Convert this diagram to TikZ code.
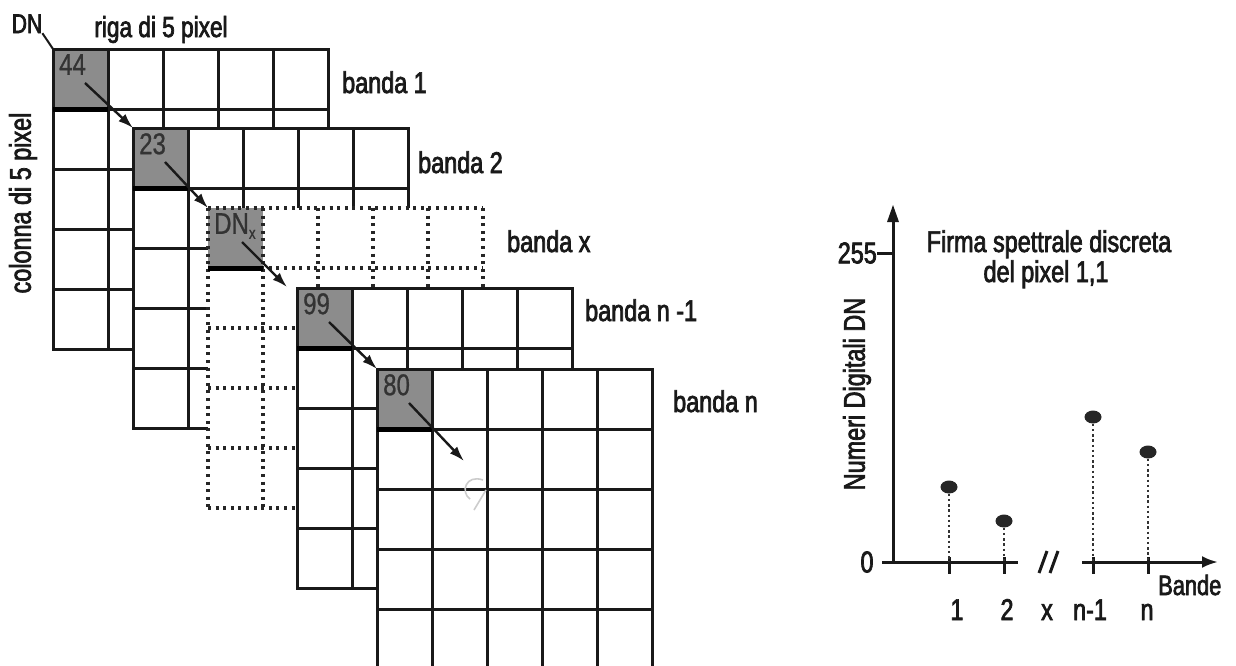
\documentclass[tikz,border=0pt]{standalone}
\usepackage{fontspec}
\setmainfont{Liberation Sans}
\newfontfamily\condfont[FakeStretch=0.78,FakeBold=2.4]{Liberation Sans}
\newfontfamily\numfont[FakeStretch=0.8,FakeBold=0.8]{Liberation Sans}
\usetikzlibrary{calc,arrows.meta,shapes.geometric}

% one 5x5 band: corner coordinate, line style, name of the value node, value
\newcommand{\bandgrid}[4]{%
  \fill[white] (#1) rectangle ($(#1)+(275,300)$);
  \fill[cellgray] (#1) rectangle ($(#1)+(55,60)$);
  \foreach \i in {0,...,5} {
    \draw[#2] ($(#1)+(55*\i,0)$) -- ($(#1)+(55*\i,300)$);
    \draw[#2] ($(#1)+(0,60*\i)$) -- ($(#1)+(275,60*\i)$);
  }
  \draw[line width=5pt] ($(#1)+(0,60)$) -- ($(#1)+(55,60)$);
  \node[val] (#3) at ($(#1)+(6,5)$) {#4};
}

\begin{document}
\begin{tikzpicture}[x=1pt,y=-1pt,
  gridline/.style={line width=3pt, line cap=rect, black!90},
  dotline/.style={line width=3.2pt, dash pattern=on 3pt off 4.6pt, black!85},
  lbl/.style={font=\condfont\fontsize{30}{30}\selectfont, inner sep=0pt, text=black!90},
  val/.style={font=\numfont\fontsize{30}{30}\selectfont, inner sep=0pt,
    anchor=north west, text=black!80},
  flow/.style={line width=2.4pt, black!90, -{Latex[length=15pt,width=10pt]}},
  axis/.style={line width=3pt, black!90},
  tick/.style={line width=3pt, black!90},
  stem/.style={line width=2.6pt, dash pattern=on 2.4pt off 2.8pt, black!80},
  dot/.style={ellipse, fill=black!85, minimum width=17pt, minimum height=13pt,
    inner sep=0pt},
  ]
\definecolor{cellgray}{gray}{0.55}
\clip (0,0) rectangle (1236,665);
\useasboundingbox (0,0) rectangle (1236,665);

% band corners
\coordinate (g1) at (53,49);
\coordinate (g2) at (133,128);
\coordinate (g3) at (208,208);
\coordinate (g4) at (297,288);
\coordinate (g5) at (377,369);

\bandgrid{g1}{gridline}{v1}{44}
\bandgrid{g2}{gridline}{v2}{23}
\bandgrid{g3}{dotline}{v3}{DN\raisebox{-5pt}{\fontsize{17}{17}\selectfont x}}
\bandgrid{g4}{gridline}{v4}{99}
\bandgrid{g5}{gridline}{v5}{80}

% faint mark on the last band
\draw[black!20, line width=1.6pt] (483,480) .. controls (466,474) and (460,492) .. (470,499);
\draw[black!20, line width=1.6pt] (486,490) -- (474,510);

% path of pixel 1,1 through the bands
\coordinate (s1) at ($(g1)+(32,34)$);
\coordinate (s2) at ($(g2)+(32,34)$);
\coordinate (s3) at ($(g3)+(34,34)$);
\coordinate (s4) at ($(g4)+(32,34)$);
\coordinate (s5) at ($(g5)+(32,34)$);
\coordinate (e5) at ($(g5)+(87,92)$);
\draw[flow] (s1) -- (g2);
\draw[flow] (s2) -- (g3);
\draw[flow] (s3) -- ($(g4)+(-10,-1)$);
\draw[flow] (s4) -- (g5);
\draw[flow] (s5) -- (e5);

% band labels
\node[lbl, anchor=base west] (b1) at (342,93) {banda 1};
\node[lbl, anchor=base west] (b2) at (418,173) {banda 2};
\node[lbl, anchor=base west] (b3) at (507,252) {banda x};
\node[lbl, anchor=base west] (b4) at (585,321) {banda n -1};
\node[lbl, anchor=base west] (b5) at (673,412) {banda n};

% DN pointer and axis labels of the cube
\node[lbl, font=\condfont\fontsize{27}{27}\selectfont, anchor=base] (dn) at (27,33) {DN};
\draw[line width=2pt, black!90] (dn.south east) -- (g1);
\node[lbl, font=\condfont\fontsize{29}{29}\selectfont, anchor=base] (riga) at (161,37) {riga di 5 pixel};
\node[lbl, font=\condfont\fontsize{30}{30}\selectfont, rotate=90] (col) at (23,203) {colonna di 5 pixel};

% spectral signature chart
\coordinate (o) at (893,562);
\coordinate (ytop) at (893,205);
\coordinate (xa) at (882,562);
\coordinate (xb) at (1018,562);
\coordinate (xc) at (1082,562);
\coordinate (xd) at (1218,562);
\draw[axis] (o) -- ($(ytop)+(0,10)$);
\fill[black!90] (ytop) -- ++(-6,17) -- ++(12,0) -- cycle;
\draw[axis] (xa) -- (xb);
\draw[axis, -{Latex[length=16pt,width=12pt]}] (xc) -- (xd);
\draw[axis] (1039,573) -- (1047,551);
\draw[axis] (1050,573) -- (1058,551);

\coordinate (tmax) at (877,253);
\draw[tick] (tmax) -- (893,253);
\node[lbl, anchor=east] (l255) at (tmax) {255};
\node[lbl] (l0) at (867,562) {0};

\coordinate (t1) at (949,562);
\coordinate (t2) at (1004,562);
\coordinate (t3) at (1093,562);
\coordinate (t4) at (1148,562);
\foreach \t in {t1,t2,t3,t4} \draw[tick] ($(\t)+(0,-5)$) -- ($(\t)+(0,12)$);

\node[dot] (d1) at (949,487) {};
\node[dot] (d2) at (1004,521) {};
\node[dot] (d3) at (1093,417) {};
\node[dot] (d4) at (1148,452) {};
\draw[stem] (d1.south) -- (t1);
\draw[stem] (d2.south) -- (t2);
\draw[stem] (d3.south) -- (t3);
\draw[stem] (d4.south) -- (t4);

\node[lbl, anchor=base] (n1) at (957,620) {1};
\node[lbl, anchor=base] (n2) at (1007,620) {2};
\node[lbl, anchor=base] (nx) at (1047,620) {x};
\node[lbl, anchor=base] (nn1) at (1090,620) {n-1};
\node[lbl, anchor=base] (nn) at (1147,620) {n};
\node[lbl, font=\condfont\fontsize{28}{28}\selectfont, anchor=base west] (bande) at (1158,595) {Bande};

\node[lbl, rotate=90] (ylab) at (857,394) {Numeri Digitali DN};
\node[lbl, anchor=base] (title1) at (1049,252) {Firma spettrale discreta};
\node[lbl, anchor=base] (title2) at (1046,282) {del pixel 1,1};
\end{tikzpicture}
\end{document}
